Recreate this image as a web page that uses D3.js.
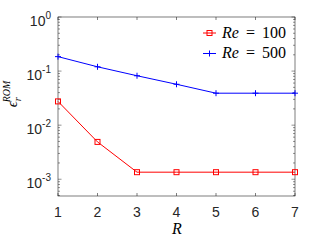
<!DOCTYPE html>
<html><head><meta charset="utf-8">
<script src="https://cdn.jsdelivr.net/npm/d3@7"></script>
<style>body{margin:0;background:#fff}svg{display:block}</style>
</head><body>
<svg id="c" width="327" height="241"></svg>
<script>
const R = [1,2,3,4,5,6,7];
const re100 = [0.0275, 0.0049, 0.00135, 0.00135, 0.00135, 0.00135, 0.00135];
const re500 = [0.185, 0.12, 0.082, 0.057, 0.039, 0.039, 0.039];
const xTicks = [1,2,3,4,5,6,7];
const yTickExp = [0,-1,-2,-3];

const svg = d3.select("#c");
const L=58, Rt=295, T=17, B=196;
const x = d3.scaleLinear().domain([1,7]).range([L,Rt]);
const y = d3.scaleLog().domain([10**-3.31, 1]).range([B,T]);
const ax = "#262626";

svg.append("rect").attr("x",L).attr("y",T).attr("width",Rt-L).attr("height",B-T)
  .attr("fill","none").attr("stroke","#262626").attr("stroke-width",0.6);

xTicks.forEach(v=>{
  svg.append("line").attr("x1",x(v)).attr("x2",x(v)).attr("y1",B).attr("y2",B-3).attr("stroke",ax).attr("stroke-width",0.6);
  svg.append("line").attr("x1",x(v)).attr("x2",x(v)).attr("y1",T).attr("y2",T+3).attr("stroke",ax).attr("stroke-width",0.6);
  svg.append("text").attr("x",x(v)).attr("y",217).attr("text-anchor","middle")
    .attr("font-family","Liberation Sans, Arial, sans-serif").attr("font-size",14).attr("fill",ax).text(v);
});
for(let e=-4;e<=0;e++){
  for(let m=1;m<=9;m++){
    const v = m*10**e;
    if(v<y.domain()[0]||v>1.0001) continue;
    const len = m===1?3.5:2;
    svg.append("line").attr("x1",L).attr("x2",L+len).attr("y1",y(v)).attr("y2",y(v)).attr("stroke",ax).attr("stroke-width",0.5);
    svg.append("line").attr("x1",Rt).attr("x2",Rt-len).attr("y1",y(v)).attr("y2",y(v)).attr("stroke",ax).attr("stroke-width",0.5);
  }
}
yTickExp.forEach(e=>{
  const t = svg.append("text").attr("x",51).attr("y",y(10**e)+9).attr("text-anchor","end")
    .attr("font-family","Liberation Sans, Arial, sans-serif").attr("font-size",14).attr("fill",ax);
  t.append("tspan").text("10");
  t.append("tspan").attr("dy",-7).attr("font-size",10).text(e);
});

const line = d3.line().x((d,i)=>x(R[i])).y(d=>y(d));
svg.append("path").datum(re100).attr("d",line).attr("fill","none").attr("stroke","#ff0000").attr("stroke-width",1);
svg.selectAll(".sq").data(re100).enter().append("rect")
  .attr("x",(d,i)=>x(R[i])-2.5).attr("y",d=>y(d)-2.5).attr("width",5).attr("height",5)
  .attr("fill","none").attr("stroke","#ff0000").attr("stroke-width",1);
svg.append("path").datum(re500).attr("d",line).attr("fill","none").attr("stroke","#0000ff").attr("stroke-width",1);
re500.forEach((d,i)=>{
  const cx=x(R[i]), cy=y(d);
  svg.append("path").attr("d",`M${cx-3},${cy}H${cx+3}M${cx},${cy-3}V${cy+3}`).attr("fill","none").attr("stroke","#0000ff").attr("stroke-width",1);
});

const lg = [{c:"#ff0000",t:"100",m:"sq",yy:33},{c:"#0000ff",t:"500",m:"plus",yy:53.5}];
lg.forEach(d=>{
  svg.append("line").attr("x1",203).attr("x2",216).attr("y1",d.yy).attr("y2",d.yy).attr("stroke",d.c).attr("stroke-width",1);
  if(d.m==="sq") svg.append("rect").attr("x",207).attr("y",d.yy-2.5).attr("width",5).attr("height",5).attr("fill","none").attr("stroke",d.c);
  else svg.append("path").attr("d",`M206.5,${d.yy}H212.5M209.5,${d.yy-3}V${d.yy+3}`).attr("fill","none").attr("stroke",d.c);
  const t = svg.append("text").attr("x",222).attr("y",d.yy+4.5).attr("font-family","Liberation Serif, Times New Roman, serif").attr("font-size",16).attr("fill","#000");
  t.append("tspan").attr("font-style","italic").text("Re");
  t.append("tspan").attr("dx",7).text("=");
  t.append("tspan").attr("dx",7).text(d.t);
});

svg.append("text").attr("x",177).attr("y",234).attr("text-anchor","middle")
  .attr("font-family","Liberation Serif, Times New Roman, serif").attr("font-style","italic").attr("font-size",16).text("R");
const yl = svg.append("text").attr("transform","translate(17,94) rotate(-90)").attr("text-anchor","middle")
  .attr("font-family","Liberation Serif, Times New Roman, serif").attr("font-style","italic").attr("font-size",15);
yl.append("tspan").text("ϵ");
yl.append("tspan").attr("font-size",10).attr("dy",4).text("r");
yl.append("tspan").attr("font-size",10).attr("dy",-11).attr("dx",-5).text("ROM");
</script>
</body></html>
